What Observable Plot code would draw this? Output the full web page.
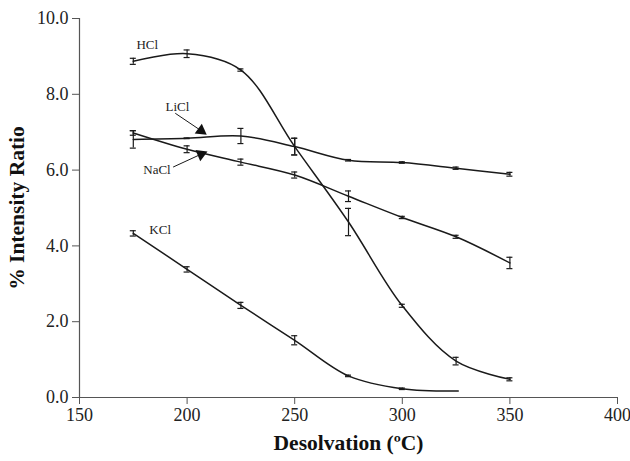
<!DOCTYPE html>
<html>
<head>
<meta charset="utf-8">
<script src="https://cdn.jsdelivr.net/npm/d3@7"></script>
<script src="https://cdn.jsdelivr.net/npm/@observablehq/plot@0.6"></script>
<style>
  html, body { margin: 0; padding: 0; background: #fff; }
  #chart svg { display: block; }
  #chart svg text { font-family: "Liberation Serif", "DejaVu Serif", serif; }
</style>
</head>
<body>
<div id="chart"></div>
<script>
// ---- data ----
const temps = [175, 200, 225, 250, 275, 300, 325, 350];
const hcl = [8.87, 9.07, 8.64, 6.62, 4.63, 2.42, 0.96, 0.48];
const hclErr = [0.08, 0.10, 0.03, 0.22, 0.36, 0.04, 0.10, 0.04];
const licl = [6.81, 6.84, 6.90, 6.62, 6.26, 6.20, 6.05, 5.89];
const liclErr = [0.23, 0.01, 0.20, 0.22, 0.02, 0.02, 0.03, 0.05];
const nacl = [6.98, 6.55, 6.21, 5.87, 5.31, 4.75, 4.24, 3.55];
const naclErr = [0.06, 0.09, 0.08, 0.08, 0.14, 0.03, 0.04, 0.15];
const kclTemps = [175, 200, 225, 250, 275, 300, 326];
const kcl = [4.33, 3.38, 2.43, 1.51, 0.57, 0.23, 0.17];
const kclErr = [0.07, 0.07, 0.08, 0.12, 0.02, 0.02, 0.0];

const xTicks = [150, 200, 250, 300, 350, 400];
const yTicks = [0, 2, 4, 6, 8, 10];

// series labels (data coordinates)
const labelNames = ["HCl", "LiCl", "NaCl", "KCl"];
const labelX = [181.5, 195.5, 186, 187.5];
const labelY = [9.3, 7.68, 6.02, 4.42];

// arrows (data coordinates)
const arrowX1 = [194.5, 193.5];
const arrowY1 = [7.50, 6.08];
const arrowX2 = [206.5, 206.5];
const arrowY2 = [7.04, 6.42];
const arrowRot = [126, 67];

// ---- build table ----
function series(xs, ys, es, name) {
  return xs.map((x, i) => ({series: name, x, y: ys[i], e: es[i]}));
}
const rows = [
  ...series(temps, hcl, hclErr, "HCl"),
  ...series(temps, licl, liclErr, "LiCl"),
  ...series(temps, nacl, naclErr, "NaCl"),
  ...series(kclTemps, kcl, kclErr, "KCl")
];
const errRows = rows.filter(d => d.e > 0);
const labels = labelNames.map((t, i) => ({t, x: labelX[i], y: labelY[i]}));
const arrows = arrowX1.map((x1, i) => ({x1, y1: arrowY1[i], x2: arrowX2[i], y2: arrowY2[i], r: arrowRot[i]}));

const capHalf = 1.4; // in x units (~3px)

const plot = Plot.plot({
  width: 630,
  height: 461,
  marginLeft: 79,
  marginRight: 13,
  marginTop: 18,
  marginBottom: 64,
  style: {fontFamily: "'Liberation Serif', 'DejaVu Serif', serif", fontSize: "18px", color: "#222", background: "#fff"},
  x: {domain: [150, 400]},
  y: {domain: [0, 10]},
  marks: [
    Plot.axisX({ticks: xTicks, tickSize: 7, tickPadding: 4, label: null, stroke: "#555", fontSize: 18, fill: "#222"}),
    Plot.axisY({ticks: yTicks, tickSize: 7, tickPadding: 4, tickFormat: d3.format(".1f"), label: null, stroke: "#555", fontSize: 18, fill: "#222"}),
    Plot.ruleY([0], {stroke: "#555", strokeWidth: 1.2}),
    Plot.ruleX([150], {stroke: "#555", strokeWidth: 1.2}),
    Plot.line(rows, {x: "x", y: "y", z: "series", curve: "catmull-rom", stroke: "#1a1a1a", strokeWidth: 1.5}),
    // error bars
    Plot.ruleX(errRows, {x: "x", y1: d => d.y - d.e, y2: d => d.y + d.e, stroke: "#1a1a1a", strokeWidth: 1.2}),
    Plot.ruleY(errRows, {y: d => d.y + d.e, x1: d => d.x - capHalf, x2: d => d.x + capHalf, stroke: "#1a1a1a", strokeWidth: 1.2}),
    Plot.ruleY(errRows, {y: d => d.y - d.e, x1: d => d.x - capHalf, x2: d => d.x + capHalf, stroke: "#1a1a1a", strokeWidth: 1.2}),
    // series labels
    Plot.text(labels, {x: "x", y: "y", text: "t", fontSize: 13, fill: "#222"}),
    // annotation arrows
    Plot.link(arrows, {x1: "x1", y1: "y1", x2: "x2", y2: "y2", stroke: "#1a1a1a", strokeWidth: 1}),
    Plot.dot(arrows, {x: "x2", y: "y2", symbol: "triangle", r: 4.5, rotate: "r", fill: "#111", stroke: "none"}),
    // axis titles
    Plot.text(["Desolvation (ºC)"], {frameAnchor: "bottom", dy: 46, lineAnchor: "middle", textAnchor: "middle", fontWeight: "bold", fontSize: 21.5, fill: "#111"}),
    Plot.text(["% Intensity Ratio"], {frameAnchor: "left", dx: -62, rotate: -90, textAnchor: "middle", lineAnchor: "middle", fontWeight: "bold", fontSize: 21.5, fill: "#111"})
  ]
});
document.getElementById("chart").appendChild(plot);
</script>
</body>
</html>
